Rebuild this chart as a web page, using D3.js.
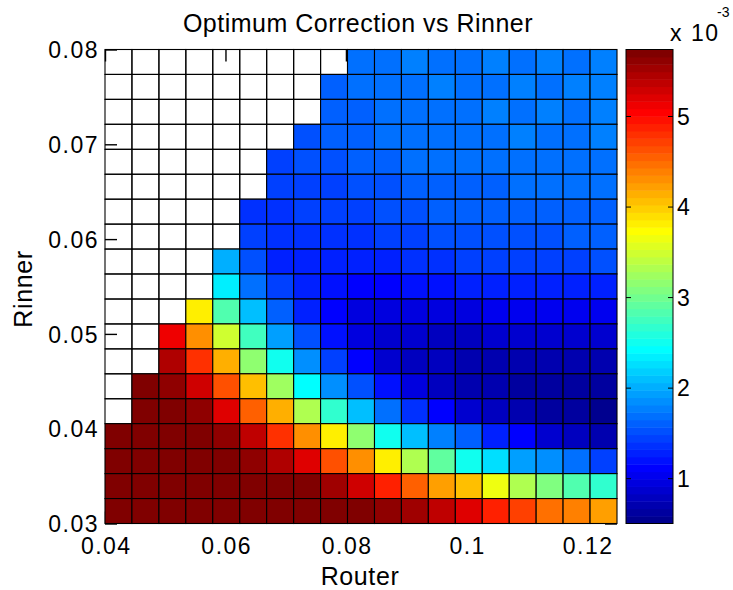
<!DOCTYPE html>
<html>
<head>
<meta charset="utf-8">
<script src="https://cdn.jsdelivr.net/npm/d3@7"></script>
<style>
  html, body { margin: 0; padding: 0; background: #fff; }
  svg { display: block; font-family: "Liberation Sans", Arial, sans-serif; }
</style>
</head>
<body>
<svg id="chart" width="733" height="590"></svg>
<script>
// Cell edges along Router (x) and Rinner (y); Rinner rows listed from top (0.08) downward
const routerEdges = [0.0400, 0.04447, 0.04895, 0.05342, 0.05789, 0.06237, 0.06684, 0.07132,
  0.07579, 0.08026, 0.08474, 0.08921, 0.09368, 0.09816, 0.10263, 0.10711, 0.11158, 0.11605,
  0.12053, 0.1250];
const rinnerEdges = [0.0800, 0.07737, 0.07474, 0.07211, 0.06947, 0.06684, 0.06421, 0.06158,
  0.05895, 0.05632, 0.05368, 0.05105, 0.04842, 0.04579, 0.04316, 0.04053, 0.03789, 0.03526,
  0.03263, 0.0300];

// Optimum correction (x 1e-3); null where no solution exists
const N = null;
const correction = [
  [N, N, N, N, N, N, N, N, N, 1.66, 1.70, 1.74, 1.72, 1.72, 1.74, 1.72, 1.74, 1.72, 1.74],
  [N, N, N, N, N, N, N, N, 1.62, 1.66, 1.70, 1.72, 1.74, 1.72, 1.72, 1.74, 1.72, 1.74, 1.76],
  [N, N, N, N, N, N, N, N, 1.58, 1.64, 1.68, 1.72, 1.70, 1.72, 1.74, 1.72, 1.74, 1.72, 1.74],
  [N, N, N, N, N, N, N, 1.52, 1.58, 1.62, 1.66, 1.70, 1.72, 1.70, 1.72, 1.74, 1.72, 1.70, 1.74],
  [N, N, N, N, N, N, 1.46, 1.52, 1.56, 1.60, 1.64, 1.66, 1.68, 1.66, 1.70, 1.70, 1.68, 1.70, 1.70],
  [N, N, N, N, N, N, 1.42, 1.44, 1.48, 1.52, 1.56, 1.60, 1.62, 1.64, 1.64, 1.66, 1.66, 1.66, 1.68],
  [N, N, N, N, N, 1.36, 1.40, 1.42, 1.44, 1.48, 1.52, 1.54, 1.58, 1.60, 1.60, 1.62, 1.62, 1.64, 1.64],
  [N, N, N, N, N, 1.48, 1.34, 1.34, 1.36, 1.40, 1.42, 1.48, 1.50, 1.52, 1.54, 1.56, 1.56, 1.58, 1.58],
  [N, N, N, N, 2.00, 1.52, 1.32, 1.26, 1.25, 1.26, 1.32, 1.34, 1.40, 1.42, 1.44, 1.46, 1.48, 1.48, 1.50],
  [N, N, N, N, 2.38, 1.72, 1.43, 1.25, 1.16, 1.10, 1.14, 1.22, 1.24, 1.26, 1.28, 1.28, 1.30, 1.30, 1.28],
  [N, N, N, 3.78, 2.85, 2.12, 1.60, 1.30, 1.08, 0.99, 0.99, 0.96, 0.99, 0.99, 1.02, 1.02, 1.04, 1.04, 1.06],
  [N, N, 5.09, 4.30, 3.52, 2.73, 1.95, 1.51, 1.20, 0.99, 0.90, 0.88, 0.83, 0.83, 0.85, 0.85, 0.85, 0.87, 0.87],
  [N, N, 5.44, 4.82, 4.13, 3.17, 2.47, 1.82, 1.43, 1.08, 0.90, 0.81, 0.76, 0.73, 0.73, 0.72, 0.72, 0.72, 0.73],
  [N, 5.70, 5.61, 5.26, 4.65, 4.04, 3.26, 2.42, 1.86, 1.51, 1.16, 0.99, 0.81, 0.73, 0.68, 0.66, 0.64, 0.60, 0.60],
  [N, 5.70, 5.70, 5.61, 5.22, 4.56, 4.13, 3.34, 2.70, 2.12, 1.69, 1.34, 1.08, 0.90, 0.81, 0.73, 0.64, 0.60, 0.55],
  [5.70, 5.70, 5.70, 5.70, 5.61, 5.35, 4.82, 4.30, 3.78, 3.17, 2.52, 2.12, 1.77, 1.60, 1.25, 1.08, 0.90, 0.81, 0.73],
  [5.70, 5.70, 5.72, 5.70, 5.68, 5.61, 5.44, 5.17, 4.65, 4.30, 3.78, 3.34, 2.91, 2.47, 2.30, 1.95, 1.86, 1.69, 1.43],
  [5.72, 5.70, 5.70, 5.72, 5.70, 5.70, 5.68, 5.70, 5.52, 5.26, 4.91, 4.56, 4.21, 4.04, 3.69, 3.34, 3.08, 2.82, 2.65],
  [5.74, 5.72, 5.70, 5.72, 5.70, 5.70, 5.72, 5.70, 5.70, 5.70, 5.61, 5.52, 5.35, 5.17, 4.91, 4.74, 4.47, 4.39, 4.21]
];

const xTicks = [0.04, 0.06, 0.08, 0.1, 0.12];
const xTickLabels = ["0.04", "0.06", "0.08", "0.1", "0.12"];
const yTicks = [0.03, 0.04, 0.05, 0.06, 0.07, 0.08];
const yTickLabels = ["0.03", "0.04", "0.05", "0.06", "0.07", "0.08"];
const cbTicks = [1, 2, 3, 4, 5];
const cbTickLabels = ["1", "2", "3", "4", "5"];
const colorRange = [0.505, 5.74];

// MATLAB-style 64-entry jet colormap
function jet64(k) {
  const i = k + 1;
  let r = 0, g = 0, b = 0;
  if (i <= 8) { b = 0.5 + 0.0625 * i; }
  else if (i <= 24) { g = 0.0625 * (i - 8); b = 1; }
  else if (i <= 40) { r = 0.0625 * (i - 24); g = 1; b = 1 - 0.0625 * (i - 24); }
  else if (i <= 56) { r = 1; g = 1 - 0.0625 * (i - 40); }
  else { r = 1 - 0.0625 * (i - 56); }
  return d3.rgb(r * 255, g * 255, b * 255).toString();
}
const levelOf = d3.scaleQuantize().domain(colorRange).range(d3.range(64));
const colorOf = v => jet64(levelOf(v));

const svg = d3.select("#chart");
svg.append("rect").attr("width", 733).attr("height", 590).attr("fill", "#fff");

const plot = { left: 105, right: 617, top: 49.5, bottom: 523.5 };
const x = d3.scaleLinear().domain([0.04, 0.125]).range([plot.left, plot.right]);
const y = d3.scaleLinear().domain([0.03, 0.08]).range([plot.bottom, plot.top]);

const tickFont = "23px";
function styleAxis(g) {
  g.select(".domain").remove();
  g.selectAll(".tick line").attr("stroke", "#000").attr("stroke-width", 1.4);
  g.selectAll(".tick text").attr("fill", "#000").style("font-size", tickFont)
    .style("letter-spacing", "1.5px");
}

// Axes drawn first so the patches sit above the inward ticks
svg.append("g").attr("transform", `translate(${plot.left},0)`)
  .call(d3.axisLeft(y).tickValues(yTicks).tickFormat((d, i) => yTickLabels[i])
    .tickSizeInner(-12).tickSizeOuter(0).tickPadding(6))
  .call(styleAxis)
  .call(g => g.selectAll(".tick text").attr("x", -6).attr("dy", "0.36em"));

svg.append("g").attr("transform", `translate(${plot.right},0)`)
  .call(d3.axisRight(y).tickValues(yTicks).tickFormat("").tickSizeInner(-12).tickSizeOuter(0))
  .call(styleAxis);

svg.append("g").attr("transform", `translate(0,${plot.bottom})`)
  .call(d3.axisBottom(x).tickValues(xTicks).tickFormat((d, i) => xTickLabels[i])
    .tickSizeInner(-12).tickSizeOuter(0))
  .call(styleAxis)
  .call(g => g.selectAll(".tick text").attr("y", 30).attr("dy", 0).attr("dx", "0.75px"));

svg.append("g").attr("transform", `translate(0,${plot.top})`)
  .call(d3.axisTop(x).tickValues(xTicks).tickFormat("").tickSizeInner(-12).tickSizeOuter(0))
  .call(styleAxis);

// Faceted cells with black edges (edges also drawn where there is no value)
const cells = [];
correction.forEach((row, r) => row.forEach((v, c) => {
  cells.push({ r, c, v,
    x0: routerEdges[c], x1: routerEdges[c + 1],
    y0: rinnerEdges[r + 1], y1: rinnerEdges[r] });
}));

svg.append("g").selectAll("rect").data(cells).join("rect")
  .attr("x", d => x(d.x0))
  .attr("y", d => y(d.y1))
  .attr("width", d => x(d.x1) - x(d.x0))
  .attr("height", d => y(d.y0) - y(d.y1))
  .attr("fill", d => d.v === null ? "none" : colorOf(d.v))
  .attr("stroke", "#000")
  .attr("stroke-width", 1.1);

// Title and axis labels
svg.append("text").attr("x", 358).attr("y", 32).attr("text-anchor", "middle")
  .style("font-size", "25px").style("letter-spacing", "0.5px")
  .text("Optimum Correction vs Rinner");

svg.append("text").attr("x", 360).attr("y", 585).attr("text-anchor", "middle")
  .style("font-size", "25px").style("letter-spacing", "0.6px")
  .text("Router");

svg.append("text").attr("transform", "translate(32,289) rotate(-90)").attr("text-anchor", "middle")
  .style("font-size", "25px").style("letter-spacing", "0.6px")
  .text("Rinner");

// Colorbar
const cb = { left: 626, right: 673 };
const cbY = d3.scaleLinear().domain(colorRange).range([plot.bottom, plot.top]);
const levels = d3.range(64);
const step = (colorRange[1] - colorRange[0]) / 64;
const cbG = svg.append("g");
cbG.selectAll("rect").data(levels).join("rect")
  .attr("x", cb.left)
  .attr("width", cb.right - cb.left)
  .attr("y", k => cbY(colorRange[0] + (k + 1) * step))
  .attr("height", k => cbY(colorRange[0] + k * step) - cbY(colorRange[0] + (k + 1) * step) + 0.5)
  .attr("fill", k => jet64(k));

cbG.append("rect").attr("x", cb.left).attr("y", plot.top)
  .attr("width", cb.right - cb.left).attr("height", plot.bottom - plot.top)
  .attr("fill", "none").attr("stroke", "#000").attr("stroke-width", 1);

cbG.selectAll("line.l").data(cbTicks).join("line").attr("class", "l")
  .attr("x1", cb.left).attr("x2", cb.left + 5)
  .attr("y1", d => cbY(d)).attr("y2", d => cbY(d))
  .attr("stroke", "#000").attr("stroke-width", 1);
cbG.selectAll("line.r").data(cbTicks).join("line").attr("class", "r")
  .attr("x1", cb.right - 5).attr("x2", cb.right)
  .attr("y1", d => cbY(d)).attr("y2", d => cbY(d))
  .attr("stroke", "#000").attr("stroke-width", 1);

cbG.selectAll("text.tl").data(cbTicks).join("text").attr("class", "tl")
  .attr("x", 677).attr("y", d => cbY(d)).attr("dy", "0.36em")
  .style("font-size", tickFont).style("letter-spacing", "1.5px")
  .text((d, i) => cbTickLabels[i]);

// Exponent label
svg.append("text").attr("x", 670).attr("y", 41)
  .style("font-size", tickFont).style("letter-spacing", "1.5px")
  .text("x 10");
svg.append("text").attr("x", 717).attr("y", 17)
  .style("font-size", "14px")
  .text("-3");
</script>
</body>
</html>
